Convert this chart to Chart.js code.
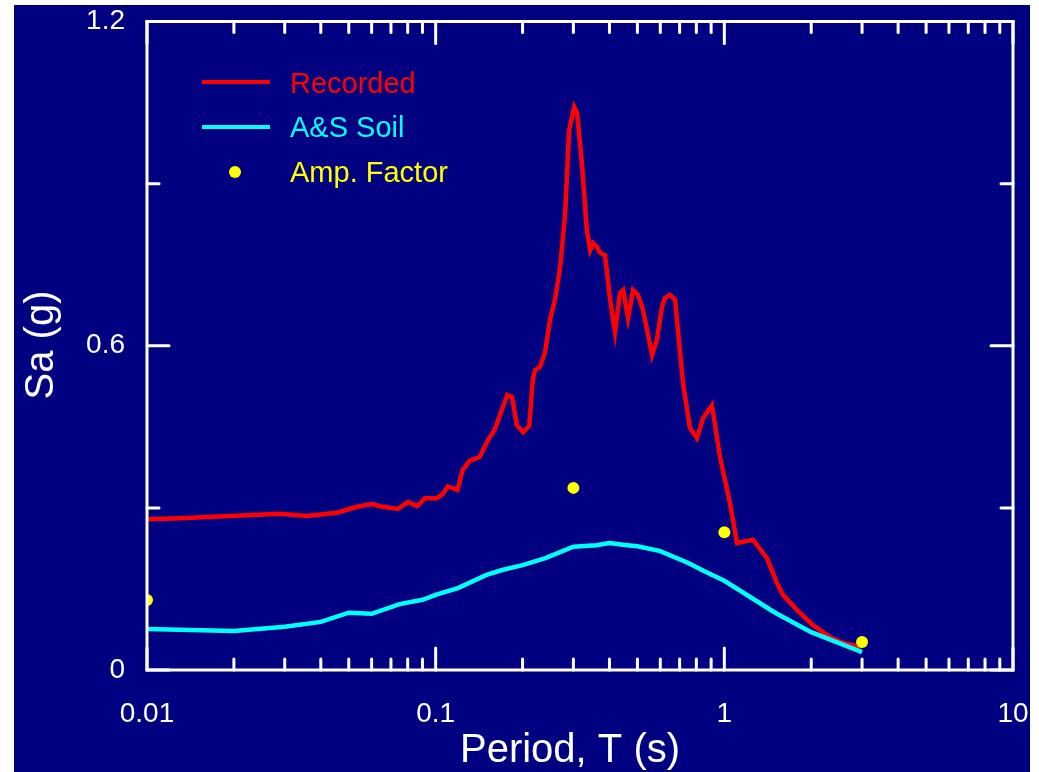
<!DOCTYPE html>
<html>
<head>
<meta charset="utf-8">
<script src="https://cdn.jsdelivr.net/npm/chart.js@4.4.0/dist/chart.umd.min.js"></script>
<style>
  html, body { margin: 0; padding: 0; background: #ffffff; }
  #wrap { width: 1039px; height: 772px; }
</style>
</head>
<body>
<div id="wrap"><canvas id="c" width="1039" height="772"></canvas></div>
<script>
// ---- data ----
const recordedPeriods = [0.0100,0.0130,0.0194,0.0289,0.0358,0.0455,0.0534,0.0602,0.0641,0.0741,0.0802,0.0862,0.0918,0.101,0.106,0.110,0.119,0.124,0.131,0.142,0.152,0.160,0.167,0.177,0.184,0.191,0.201,0.211,0.217,0.221,0.230,0.239,0.249,0.259,0.270,0.281,0.290,0.302,0.309,0.321,0.334,0.343,0.351,0.362,0.371,0.386,0.402,0.418,0.435,0.446,0.464,0.483,0.502,0.523,0.562,0.584,0.608,0.623,0.648,0.675,0.719,0.760,0.804,0.844,0.906,0.966,1.046,1.106,1.257,1.405,1.522,1.597,1.785,2.028,2.323,2.577,2.882,3.000];
const recordedSa = [0.279,0.281,0.285,0.289,0.285,0.291,0.302,0.307,0.303,0.298,0.311,0.303,0.318,0.318,0.326,0.340,0.333,0.370,0.387,0.394,0.426,0.444,0.472,0.509,0.505,0.453,0.440,0.452,0.537,0.555,0.561,0.587,0.648,0.685,0.746,0.846,0.999,1.042,1.031,0.938,0.814,0.777,0.790,0.783,0.772,0.768,0.685,0.625,0.698,0.703,0.651,0.703,0.694,0.666,0.583,0.611,0.672,0.688,0.694,0.685,0.531,0.448,0.429,0.466,0.490,0.394,0.309,0.235,0.241,0.207,0.161,0.139,0.111,0.083,0.061,0.050,0.044,0.044];

const soilPeriods = [0.01,0.02,0.03,0.04,0.05,0.06,0.075,0.09,0.1,0.12,0.15,0.17,0.2,0.24,0.3,0.36,0.4,0.46,0.5,0.6,0.75,0.85,1.0,1.5,2.0,3.0];
const soilSa = [0.076,0.072,0.080,0.089,0.106,0.104,0.122,0.130,0.139,0.152,0.176,0.185,0.194,0.207,0.228,0.231,0.235,0.231,0.229,0.220,0.198,0.183,0.165,0.106,0.070,0.033];

const ampPeriods = [0.01,0.3,1.0,3.0];
const ampSa = [0.1295,0.337,0.255,0.052];

const xMajorTicks = [0.01,0.1,1,10];
const xTickLabels = ['0.01','0.1','1','10'];
const xMinorTicks = [0.02,0.03,0.04,0.05,0.06,0.07,0.08,0.09,0.2,0.3,0.4,0.5,0.6,0.7,0.8,0.9,2,3,4,5,6,7,8,9];
const yMajorTicks = [0,0.6,1.2];
const yTickLabels = ['0','0.6','1.2'];
const yMinorTicks = [0.3,0.9];

const legendLabels = ['Recorded','A&S Soil','Amp. Factor'];
const xTitle = 'Period, T (s)';
const yTitle = 'Sa (g)';

// ---- styles ----
const NAVY = '#000080', RED = '#ff0000', CYAN = '#00ffff', YELLOW = '#ffff00', WHITE = '#ffffff';
const FONT = '"Liberation Sans", Arial, Helvetica, sans-serif';

const toPts = (xs, ys) => xs.map((x, i) => ({x: x, y: ys[i]}));

const decor = {
  id: 'decor',
  beforeDraw(chart) {
    const ctx = chart.ctx;
    ctx.save();
    ctx.fillStyle = WHITE;
    ctx.fillRect(0, 0, chart.width, chart.height);
    ctx.fillStyle = NAVY;
    ctx.fillRect(14, 5, 1016, 767);
    ctx.restore();
  },
  afterDatasetsDraw(chart) {
    const ctx = chart.ctx;
    const a = chart.chartArea;
    const xs = chart.scales.x, ys = chart.scales.y;
    ctx.save();
    ctx.strokeStyle = WHITE;
    ctx.lineWidth = 3;
    ctx.lineCap = 'round';
    const tick = (x1, y1, x2, y2) => { ctx.beginPath(); ctx.moveTo(x1, y1); ctx.lineTo(x2, y2); ctx.stroke(); };
    xMajorTicks.forEach(v => { const p = xs.getPixelForValue(v); tick(p, a.bottom, p, a.bottom - 22); tick(p, a.top, p, a.top + 22); });
    xMinorTicks.forEach(v => { const p = xs.getPixelForValue(v); tick(p, a.bottom, p, a.bottom - 11); tick(p, a.top, p, a.top + 11); });
    yMajorTicks.forEach(v => { const p = ys.getPixelForValue(v); tick(a.left, p, a.left + 22, p); tick(a.right, p, a.right - 22, p); });
    yMinorTicks.forEach(v => { const p = ys.getPixelForValue(v); tick(a.left, p, a.left + 12, p); tick(a.right, p, a.right - 12, p); });
    ctx.lineCap = 'butt';
    ctx.lineJoin = 'miter';
    ctx.strokeRect(a.left, a.top, a.right - a.left, a.bottom - a.top);
    // legend
    ctx.lineWidth = 4;
    ctx.strokeStyle = RED;
    tick(202, 82, 270, 82);
    ctx.strokeStyle = CYAN;
    tick(202, 127, 270, 127);
    ctx.fillStyle = YELLOW;
    ctx.beginPath(); ctx.arc(235, 172, 6, 0, Math.PI * 2); ctx.fill();
    ctx.font = '29px ' + FONT;
    ctx.textAlign = 'left';
    ctx.textBaseline = 'alphabetic';
    ctx.fillStyle = RED; ctx.fillText(legendLabels[0], 290, 93);
    ctx.fillStyle = CYAN; ctx.fillText(legendLabels[1], 290, 137);
    ctx.fillStyle = YELLOW; ctx.fillText(legendLabels[2], 290, 182);
    // axis titles
    ctx.fillStyle = WHITE;
    ctx.font = '40px ' + FONT;
    ctx.textAlign = 'center';
    ctx.fillText(xTitle, 570, 762);
    ctx.translate(53, 345);
    ctx.rotate(-Math.PI / 2);
    ctx.fillText(yTitle, 0, 0);
    ctx.restore();
  }
};

new Chart(document.getElementById('c'), {
  type: 'line',
  data: {
    datasets: [
      { label: legendLabels[0], data: toPts(recordedPeriods, recordedSa), borderColor: RED, borderWidth: 4.5, pointRadius: 0, tension: 0, fill: false, order: 2 },
      { label: legendLabels[1], data: toPts(soilPeriods, soilSa), borderColor: CYAN, borderWidth: 4.5, pointRadius: 0, tension: 0, fill: false, order: 1 },
      { label: legendLabels[2], type: 'scatter', data: toPts(ampPeriods, ampSa), showLine: false, pointRadius: 6, pointBackgroundColor: YELLOW, pointBorderWidth: 0, borderColor: YELLOW, order: 0 }
    ]
  },
  options: {
    responsive: false,
    devicePixelRatio: 1,
    animation: false,
    layout: { padding: { left: 0, top: 21.5, right: 26, bottom: 0 } },
    plugins: { legend: { display: false }, tooltip: { enabled: false } },
    scales: {
      x: {
        type: 'logarithmic', position: 'bottom', min: 0.01, max: 10,
        grid: { display: false, drawTicks: false },
        border: { display: false },
        afterBuildTicks: s => { s.ticks = xMajorTicks.map(v => ({ value: v })); },
        afterFit: s => { s.height = 102; s.paddingLeft = 0; s.paddingRight = 0; },
        ticks: {
          autoSkip: false, maxRotation: 0, color: WHITE, padding: 27,
          font: { family: FONT, size: 28 },
          callback: (v) => { const i = xMajorTicks.indexOf(v); return i >= 0 ? xTickLabels[i] : ''; }
        }
      },
      y: {
        type: 'linear', min: 0, max: 1.2,
        grid: { display: false, drawTicks: false },
        border: { display: false },
        afterBuildTicks: s => { s.ticks = yMajorTicks.map(v => ({ value: v })); },
        afterFit: s => { s.width = 147; s.paddingTop = 0; s.paddingBottom = 0; },
        ticks: {
          color: WHITE, padding: 22,
          font: { family: FONT, size: 28 },
          callback: (v) => { const i = yMajorTicks.indexOf(v); return i >= 0 ? yTickLabels[i] : ''; }
        }
      }
    }
  },
  plugins: [decor]
});
</script>
</body>
</html>
